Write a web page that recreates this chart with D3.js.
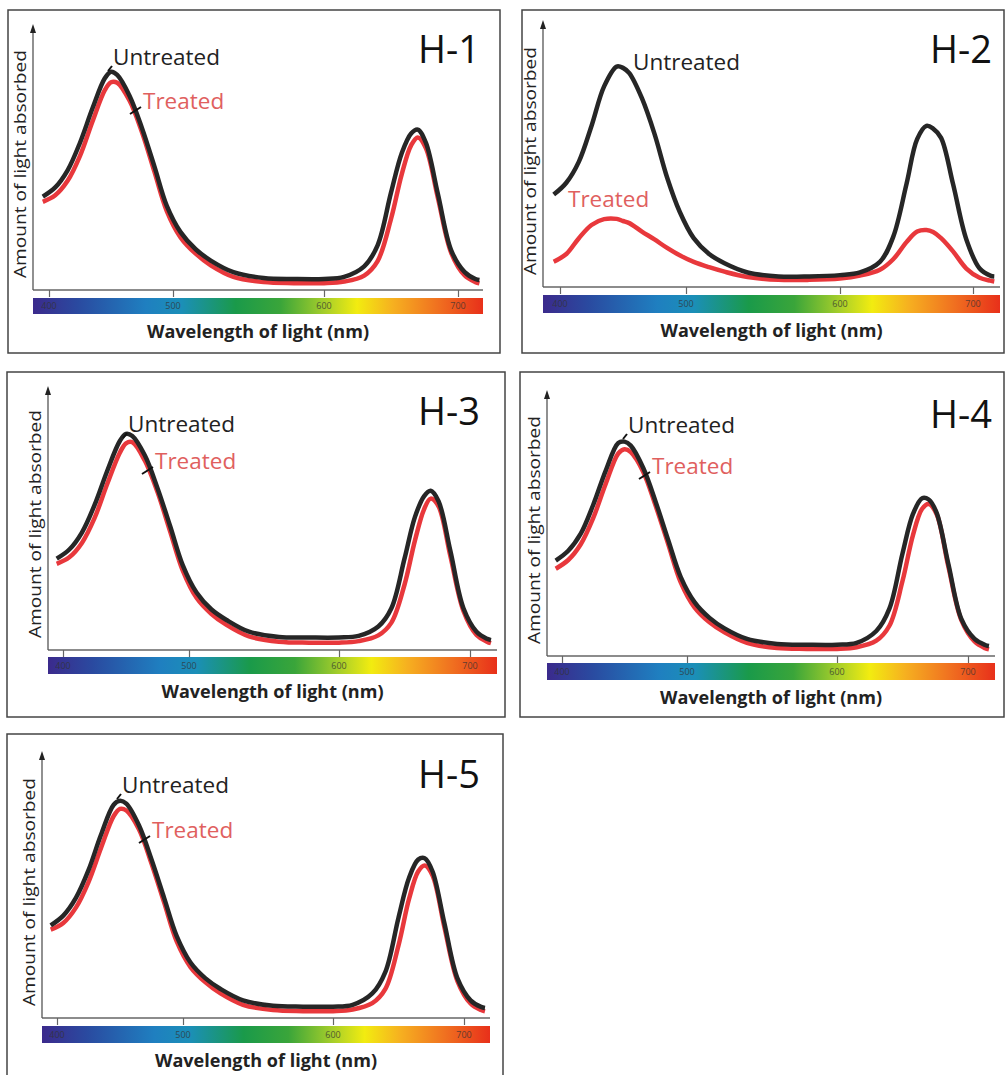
<!DOCTYPE html>
<head>
<meta charset="utf-8">
<script src="https://d3js.org/d3.v7.min.js"></script>
<style>
body { margin: 0; background: #fff; }
svg { display: block; }
text { font-family: "Open Sans", "DejaVu Sans", sans-serif; }
.title { font-size: 38px; fill: #111; }
.xlabel { font-size: 17px; font-weight: bold; fill: #222; }
.ylabel { font-size: 16px; fill: #222; }
.untreated { font-size: 22.5px; fill: #222; }
.treated { font-size: 22.5px; fill: #e0605e; }
.barTick { font-size: 9px; fill: #333; opacity: 0.75; }
</style>
</head>
<body>
<script>
// chart values
var panelNames = ["H-1", "H-2", "H-3", "H-4", "H-5"];
var axisTicks = [400, 500, 600, 700];
var wavelengths = [395, 405, 415, 425, 435, 445, 450, 455, 465, 475, 485, 495, 505, 515, 525, 540,
    560, 580, 600, 615, 630, 640, 650, 658, 665, 670, 676, 685, 695, 705, 713, 716];

var h1Untreated = [35.5, 39, 45.5, 56, 69, 80.5, 83, 81.8, 73.8, 61.5, 47, 32, 22, 15.5, 11.2, 6.8,
    4.6, 4.2, 4.2, 5, 9, 17, 37, 52, 59.5, 61, 56, 36.5, 15, 6.8, 4.2, 3.8];
var h1Treated = [33.5, 36, 41.5, 51, 64, 76, 79, 78.8, 72, 60, 45, 30, 20, 13.8, 9.4, 5,
    3, 2.6, 2.6, 3.2, 5.5, 11, 27, 44, 55, 58, 54, 35, 14, 5.5, 3, 2.5];

var h2Untreated = [35, 39.5, 47.5, 61, 76, 83.5, 83, 81, 71.5, 58, 41.5, 28.5, 18.5, 12.5, 9, 5.5,
    4, 4, 4.5, 5.5, 9.5, 19, 39, 56, 61, 60, 56.5, 39, 18, 7, 4.3, 4];
var h2Treated = [9.6, 12.5, 18.5, 23.5, 25.7, 25.8, 25, 24.2, 21, 18, 14.8, 12, 9.5, 7.5, 5.8, 3.8,
    2.7, 2.7, 3.2, 4.3, 6.5, 10.5, 17, 21, 21.6, 20.8, 18.5, 13.5, 7, 3.5, 2.4, 2.1];

var h3Untreated = [35, 38.5, 45, 55.5, 68.5, 80, 82.8, 82, 74.5, 62, 47.5, 32.5, 22, 15.5, 11.5, 7,
    5, 4.8, 4.8, 5.4, 9, 16, 35, 51, 59, 61, 57, 38, 16, 7, 4.3, 3.8];
var h3Treated = [33, 35.5, 41, 50.5, 63.5, 75.5, 79.2, 79.6, 72.5, 60.5, 45.5, 30.5, 20, 13.8, 9.6, 5.2,
    3.2, 2.8, 2.8, 3.4, 5.6, 10.5, 25, 42, 54, 58, 55, 36, 15, 5.8, 3.2, 2.6];

var h4Untreated = [36.3, 40, 46.5, 57.5, 70.5, 81, 81.5, 80, 71.5, 58.5, 44, 30, 20.5, 14.5, 10.5, 6.5,
    4.6, 4.3, 4.3, 5, 9.5, 18, 39, 54, 60, 59.5, 54.5, 35, 14, 6.5, 4.2, 3.8];
var h4Treated = [33.2, 36.5, 42.5, 52.5, 65.5, 77, 78.6, 77.5, 70, 57, 42.5, 28, 18.5, 12.8, 9, 5,
    3, 2.7, 2.7, 3.3, 5.8, 11.5, 28.5, 46, 56, 57.8, 54, 34, 13.5, 5.5, 3, 2.5];

var h5Untreated = [35.1, 38.8, 45.5, 56, 69.5, 80.8, 82.3, 81.2, 73, 60, 45.5, 31, 21, 15, 11, 6.7,
    4.6, 4.3, 4.3, 5, 9.3, 17.5, 38, 53, 60, 60.5, 55.5, 36, 15, 6.7, 4.2, 3.8];
var h5Treated = [33.5, 36, 41.8, 51.5, 64.5, 76.5, 79.2, 78.6, 71.5, 58.5, 43.8, 29, 19.3, 13.5, 9.3, 5,
    3, 2.6, 2.6, 3.2, 5.6, 11, 27.5, 45, 55.5, 57.8, 54, 34.5, 14, 5.5, 3, 2.5];

var untreatedSeries = [h1Untreated, h2Untreated, h3Untreated, h4Untreated, h5Untreated];
var treatedSeries = [h1Treated, h2Treated, h3Treated, h4Treated, h5Treated];

// where each panel sits on the page
var layout = [
    { box: [8, 10, 500, 353], ox: 33, oy: 290, top: 24, xEnd: 483, ticks: [49, 173, 324, 458], bar: [298, 314], title: [480, 63], unt: [113, 65], tr: [143, 109], pointers: true },
    { box: [522, 10, 1004, 353], ox: 543, oy: 287, top: 20, xEnd: 1000, ticks: [560, 686, 840, 973], bar: [295, 313], title: [992, 63], unt: [633, 70], tr: [568, 207], pointers: false },
    { box: [7, 372, 505, 717], ox: 48, oy: 650, top: 386, xEnd: 497, ticks: [63, 189, 339, 470], bar: [657, 674], title: [480, 425], unt: [128, 432], tr: [155, 469], pointers: true },
    { box: [520, 372, 1004, 717], ox: 547, oy: 656, top: 390, xEnd: 995, ticks: [562, 687, 837, 968], bar: [663, 680], title: [992, 428], unt: [628, 433], tr: [652, 474], pointers: true },
    { box: [7, 734, 503, 1085], ox: 42, oy: 1018, top: 751, xEnd: 490, ticks: [57, 183, 333, 464], bar: [1026, 1043], title: [480, 788], unt: [122, 793], tr: [152, 838], pointers: true }
];

var svg = d3.select("body").append("svg")
    .attr("width", 1006)
    .attr("height", 1075);

svg.append("rect").attr("width", 1006).attr("height", 1075).attr("fill", "#fff");

var grad = svg.append("defs").append("linearGradient").attr("id", "spectrum");
[[0, "#3b2a8c"], [0.1, "#2a4aa0"], [0.25, "#1f7fc0"], [0.33, "#1b8fb8"], [0.45, "#1a9a4a"],
 [0.55, "#3aa53a"], [0.65, "#a8cf2a"], [0.72, "#f2ec10"], [0.8, "#f6b020"], [0.9, "#f07020"], [1, "#e8301a"]]
    .forEach(function(s) {
        grad.append("stop").attr("offset", s[0]).attr("stop-color", s[1]);
    });

function drawPanel(i) {
    var L = layout[i];
    var g = svg.append("g");

    g.append("rect")
        .attr("x", L.box[0]).attr("y", L.box[1])
        .attr("width", L.box[2] - L.box[0]).attr("height", L.box[3] - L.box[1])
        .attr("fill", "none").attr("stroke", "#444").attr("stroke-width", 1.5);

    var x = d3.scaleLinear().domain(axisTicks).range(L.ticks);
    var y = d3.scaleLinear().domain([0, 100]).range([L.oy, L.top + 3]);

    // colour bar with wavelength labels
    g.append("rect")
        .attr("x", L.ox).attr("y", L.bar[0])
        .attr("width", L.xEnd - L.ox).attr("height", L.bar[1] - L.bar[0])
        .attr("fill", "url(#spectrum)");

    var xAxis = d3.axisBottom(x).tickValues(axisTicks).tickSize(7).tickFormat("");
    var ax = g.append("g")
        .attr("transform", "translate(0," + L.oy + ")")
        .call(xAxis);
    ax.select(".domain").remove();
    ax.selectAll(".tick line").attr("stroke", "#666").attr("stroke-width", 1.2);

    g.append("line")
        .attr("x1", L.ox).attr("x2", L.xEnd)
        .attr("y1", L.oy).attr("y2", L.oy)
        .attr("stroke", "#666").attr("stroke-width", 1.5);
    g.append("line")
        .attr("x1", L.ox).attr("x2", L.ox)
        .attr("y1", L.oy).attr("y2", L.top + 6)
        .attr("stroke", "#555").attr("stroke-width", 1.3);
    g.append("path")
        .attr("d", "M" + (L.ox - 3) + "," + (L.top + 9) + "L" + L.ox + "," + L.top + "L" + (L.ox + 3) + "," + (L.top + 9) + "Z")
        .attr("fill", "#222");

    g.selectAll(".barTick")
        .data(axisTicks)
        .enter().append("text")
        .attr("class", "barTick")
        .attr("x", function(d) { return x(d); })
        .attr("y", (L.bar[0] + L.bar[1]) / 2 + 3)
        .attr("text-anchor", "middle")
        .text(function(d) { return d; });

    g.append("text")
        .attr("class", "xlabel")
        .attr("x", (L.ox + L.xEnd) / 2)
        .attr("y", L.bar[1] + 24)
        .attr("text-anchor", "middle")
        .attr("textLength", 222)
        .attr("lengthAdjust", "spacingAndGlyphs")
        .text("Wavelength of light (nm)");

    g.append("text")
        .attr("class", "ylabel")
        .attr("transform", "translate(" + (L.ox - 7) + "," + (L.oy - 126) + ") rotate(-90)")
        .attr("text-anchor", "middle")
        .attr("textLength", 228)
        .attr("lengthAdjust", "spacingAndGlyphs")
        .text("Amount of light absorbed");

    var line = d3.line()
        .x(function(d) { return x(d[0]); })
        .y(function(d) { return y(d[1]); })
        .curve(d3.curveCatmullRom.alpha(0.5));

    g.append("path")
        .datum(d3.zip(wavelengths, treatedSeries[i]))
        .attr("d", line)
        .attr("fill", "none")
        .attr("stroke", "#e8383c")
        .attr("stroke-width", 4.5)
        .attr("stroke-linejoin", "round");

    g.append("path")
        .datum(d3.zip(wavelengths, untreatedSeries[i]))
        .attr("d", line)
        .attr("fill", "none")
        .attr("stroke", "#262626")
        .attr("stroke-width", 4.5)
        .attr("stroke-linejoin", "round");

    if (L.pointers) {
        g.append("line")
            .attr("x1", L.unt[0] - 5).attr("y1", L.unt[1] + 6)
            .attr("x2", L.unt[0] - 1).attr("y2", L.unt[1] + 1)
            .attr("stroke", "#111").attr("stroke-width", 2);
        g.append("line")
            .attr("x1", L.tr[0] - 13).attr("y1", L.tr[1] + 5)
            .attr("x2", L.tr[0] - 2).attr("y2", L.tr[1] - 2)
            .attr("stroke", "#111").attr("stroke-width", 2);
    }

    g.append("text")
        .attr("class", "untreated")
        .attr("x", L.unt[0]).attr("y", L.unt[1])
        .text("Untreated");
    g.append("text")
        .attr("class", "treated")
        .attr("x", L.tr[0]).attr("y", L.tr[1])
        .text("Treated");

    g.append("text")
        .attr("class", "title")
        .attr("x", L.title[0]).attr("y", L.title[1])
        .attr("text-anchor", "end")
        .text(panelNames[i]);
}

panelNames.forEach(function(name, i) { drawPanel(i); });
</script>
</body>
